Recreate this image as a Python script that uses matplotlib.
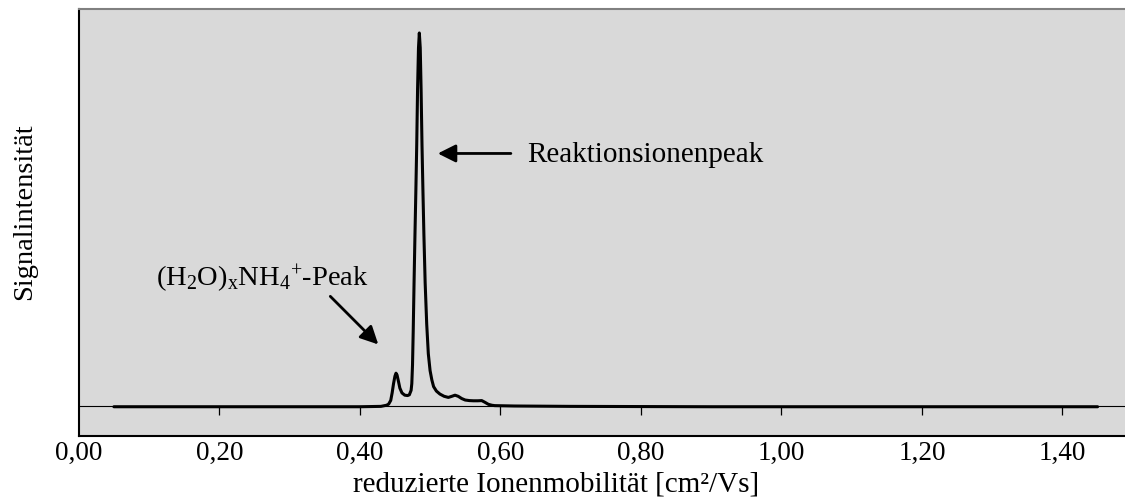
import numpy as np
import matplotlib
matplotlib.use("Agg")
import matplotlib.pyplot as plt

plt.rcParams["font.family"] = ["Liberation Serif", "DejaVu Serif"]
plt.rcParams["mathtext.fontset"] = "custom"
plt.rcParams["mathtext.rm"] = "Liberation Serif"
plt.rcParams["mathtext.it"] = "Liberation Serif:italic"

# spectrum (reduced mobility, relative intensity)
mobility = [0.05, 0.10, 0.20, 0.30, 0.40, 0.430, 0.438, 0.441, 0.444, 0.446,
            0.448, 0.450, 0.4515, 0.453, 0.455, 0.457, 0.460, 0.464, 0.468, 0.4705,
            0.4730, 0.4740, 0.4750, 0.4760, 0.4772, 0.4785, 0.4798, 0.4810, 0.4822, 0.4835,
            0.4847, 0.4860, 0.4872, 0.4885, 0.4898, 0.4912, 0.4930, 0.4952, 0.4975, 0.5000,
            0.5025, 0.5050, 0.5090, 0.514, 0.520, 0.526, 0.531, 0.5355, 0.540, 0.545,
            0.550, 0.556, 0.5616, 0.568, 0.5735, 0.578, 0.583, 0.588, 0.592, 0.62,
            0.70, 0.90, 1.10, 1.30, 1.45]
intensity = [-0.002, -0.002, -0.002, -0.002, -0.002, -0.001, 0.002, 0.005, 0.015, 0.035,
             0.060, 0.080, 0.088, 0.083, 0.066, 0.048, 0.035, 0.029, 0.028, 0.030,
             0.042, 0.060, 0.110, 0.200, 0.330, 0.460, 0.580, 0.700, 0.850, 0.960,
             1.0, 0.960, 0.850, 0.700, 0.580, 0.460, 0.330, 0.220, 0.140, 0.095,
             0.070, 0.052, 0.040, 0.032, 0.026, 0.023, 0.026, 0.029, 0.026, 0.020,
             0.016, 0.0145, 0.014, 0.014, 0.0145, 0.010, 0.0045, 0.002, 0.001, 0.0,
             -0.001, -0.002, -0.002, -0.002, -0.002]

xticks = [0.0, 0.2, 0.4, 0.6, 0.8, 1.0, 1.2, 1.4]
xticklabels = ["0,00", "0,20", "0,40", "0,60", "0,80", "1,00", "1,20", "1,40"]

fig = plt.figure(figsize=(11.25, 5.02), dpi=100)
ax = fig.add_axes([0.070, 0.1295, 0.930, 0.8506])
ax.set_facecolor("#d9d9d9")

ax.axhline(0, color="black", lw=0.8, zorder=1)
ax.plot(mobility, intensity, color="black", lw=2.2, zorder=3,
        solid_joinstyle="round", solid_capstyle="round")

# tick marks hang from the zero line
ax.vlines(xticks[1:], -0.024, 0, color="black", lw=0.9, zorder=2)

ax.set_xlim(0, 1.489)
ax.set_ylim(-0.0804, 1.0643)
ax.set_xticks(xticks)
ax.set_xticklabels(xticklabels, fontsize=19.5)
ax.tick_params(axis="x", length=0, pad=3)
ax.set_yticks([])

ax.spines["right"].set_visible(False)
ax.spines["top"].set_color("#808080")
ax.spines["top"].set_linewidth(1.5)
ax.spines["left"].set_linewidth(1.5)
ax.spines["bottom"].set_linewidth(1.5)

ax.annotate("", xy=(0.511, 0.677), xytext=(0.615, 0.677),
            arrowprops=dict(arrowstyle="-|>", mutation_scale=27, lw=2, color="black",
                            shrinkA=0, shrinkB=0))
ax.text(0.638, 0.675, "Reaktionsionenpeak", fontsize=21, ha="left", va="center")

ax.annotate("", xy=(0.4263, 0.165), xytext=(0.358, 0.294),
            arrowprops=dict(arrowstyle="-|>", mutation_scale=27, lw=2, color="black",
                            shrinkA=0, shrinkB=0))
ax.text(0.262, 0.345, r"(H$_\mathregular{2}$O)$_\mathregular{x}$NH$_\mathregular{4}$$^\mathregular{+}$-Peak",
        fontsize=20.5, ha="center", va="center")

fig.text(0.494, 0.034, "reduzierte Ionenmobilität [cm²/Vs]", fontsize=21, ha="center", va="center")
fig.text(0.022, 0.578, "Signalintensität", fontsize=20.5, rotation=90, ha="center", va="center")

fig.savefig("out.png", dpi=100)
